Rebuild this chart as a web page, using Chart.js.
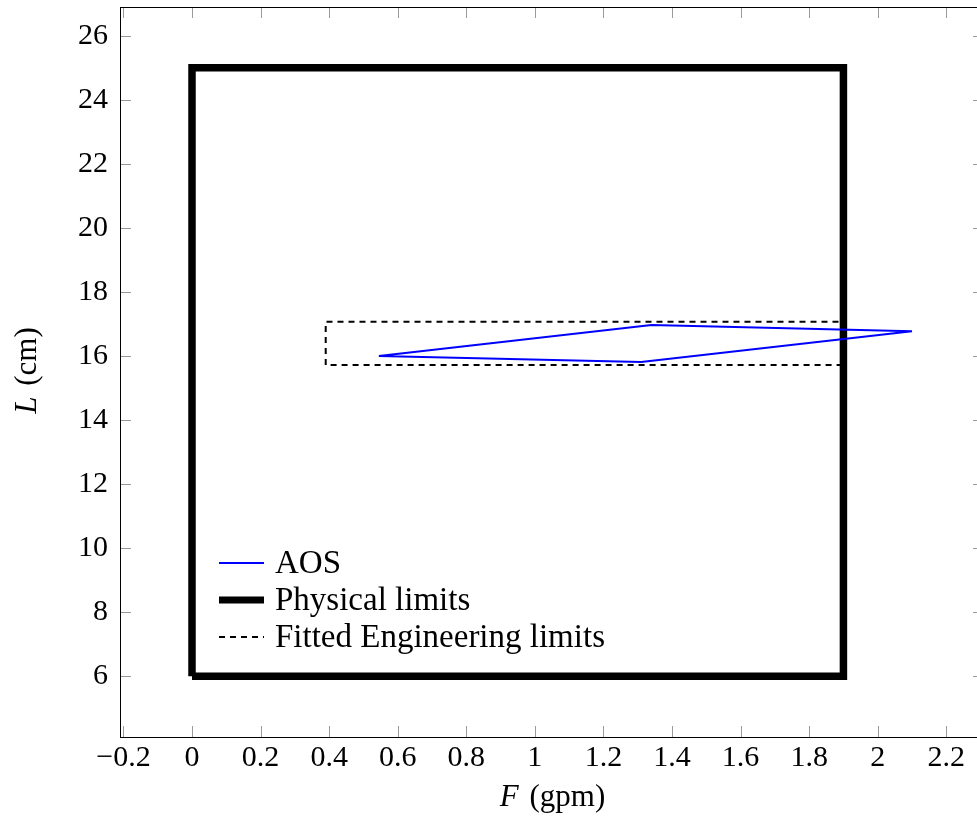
<!DOCTYPE html>
<html>
<head>
<meta charset="utf-8">
<script src="https://cdn.jsdelivr.net/npm/chart.js@4/dist/chart.umd.min.js"></script>
<style>
  html, body { margin: 0; padding: 0; background: #fff; overflow: hidden; }
  #wrap { width: 977px; height: 819px; overflow: hidden; }
  #c { display: block; }
</style>
</head>
<body>
<div id="wrap"><canvas id="c" width="984" height="819"></canvas></div>
<script>
// ---- data ----
const seriesNames = ['AOS', 'Physical limits', 'Fitted Engineering limits'];
const aosF  = [0.545, 1.34, 2.10, 1.31, 0.545];
const aosL  = [16.00, 16.97, 16.77, 15.81, 16.00];
const physF = [0, 0, 1.9, 1.9, 0];
const physL = [6, 25, 25, 6, 6];
const engF  = [0.39, 0.39, 1.9, 1.9, 0.39];
const engL  = [15.72, 17.07, 17.07, 15.72, 15.72];
const xTicks = [-0.2, 0, 0.2, 0.4, 0.6, 0.8, 1, 1.2, 1.4, 1.6, 1.8, 2, 2.2];
const yTicks = [6, 8, 10, 12, 14, 16, 18, 20, 22, 24, 26];
const xRange = [-0.21, 2.31];
const yRange = [4.1, 26.9];

const FONT = '"Liberation Serif", "Times New Roman", serif';
const pts = (xs, ys) => xs.map((x, i) => ({ x: x, y: ys[i] }));

function fmt(v) {
  const r = Math.round(v * 10) / 10;
  const s = String(r);
  return r < 0 ? '\u2212' + s.slice(1) : s;
}

const boxTicks = {
  id: 'boxTicks',
  afterDatasetsDraw(chart) {
    const { ctx, chartArea: a, scales: { x, y } } = chart;
    ctx.save();
    ctx.strokeStyle = '#9a9a9a';
    ctx.lineWidth = 1;
    const L = 11;
    ctx.beginPath();
    xTicks.forEach(v => {
      const px = Math.round(x.getPixelForValue(v)) + 0.5;
      ctx.moveTo(px, a.bottom); ctx.lineTo(px, a.bottom - L);
      ctx.moveTo(px, a.top); ctx.lineTo(px, a.top + L);
    });
    yTicks.forEach(v => {
      const py = Math.round(y.getPixelForValue(v)) + 0.5;
      ctx.moveTo(a.left, py); ctx.lineTo(a.left + L, py);
      ctx.moveTo(a.right, py); ctx.lineTo(a.right - L, py);
    });
    ctx.stroke();
    ctx.strokeStyle = '#000';
    ctx.lineWidth = 1;
    ctx.strokeRect(Math.round(a.left) + 0.5, Math.round(a.top) + 0.5,
                   Math.round(a.right - a.left), Math.round(a.bottom - a.top));
    ctx.restore();
  }
};

const titlesAndLegend = {
  id: 'titlesAndLegend',
  afterDraw(chart) {
    const { ctx, chartArea: a } = chart;
    ctx.save();
    ctx.fillStyle = '#000';
    ctx.textBaseline = 'middle';
    const f1 = 'italic 31px ' + FONT, f2 = '31px ' + FONT;
    // x title: italic F + " (gpm)"
    ctx.font = f1; const w1 = ctx.measureText('F').width;
    ctx.font = f2; const w2 = ctx.measureText(' (gpm)').width;
    const cx = 551 - (w1 + w2) / 2;
    ctx.textAlign = 'left';
    ctx.font = f1; ctx.fillText('F', cx, 798);
    ctx.font = f2; ctx.fillText(' (gpm)', cx + w1 + 3, 798);
    // y title
    ctx.save();
    ctx.translate(28, (a.top + a.bottom) / 2);
    ctx.rotate(-Math.PI / 2);
    ctx.font = f1; const v1 = ctx.measureText('L').width;
    ctx.font = f2; const v2 = ctx.measureText(' (cm)').width;
    const cy = -(v1 + v2) / 2;
    ctx.font = f1; ctx.fillText('L', cy, 0);
    ctx.font = f2; ctx.fillText(' (cm)', cy + v1 + 3, 0);
    ctx.restore();
    // legend
    const lf = '33px ' + FONT;
    chart.data.datasets.forEach((ds, i) => {
      const yy = 563 + 37 * i;
      ctx.save();
      ctx.strokeStyle = ds.borderColor;
      ctx.lineWidth = ds.legendWidth || ds.borderWidth;
      ctx.setLineDash(ds.borderDash || []);
      ctx.lineCap = 'butt';
      ctx.beginPath();
      ctx.moveTo(219, yy); ctx.lineTo(264, yy);
      ctx.stroke();
      ctx.restore();
      ctx.font = lf;
      ctx.textAlign = 'left';
      ctx.fillText(ds.label, 275, yy + 1);
    });
    ctx.restore();
  }
};

new Chart(document.getElementById('c'), {
  type: 'line',
  data: {
    datasets: [
      { label: seriesNames[0], data: pts(aosF, aosL), borderColor: '#0000ff', borderWidth: 2 },
      { label: seriesNames[1], data: pts(physF, physL), borderColor: '#000000', borderWidth: 7.5, legendWidth: 7, borderJoinStyle: 'miter', borderCapStyle: 'butt' },
      { label: seriesNames[2], data: pts(engF, engL), borderColor: '#000000', borderWidth: 2, borderDash: [6, 5] }
    ]
  },
  options: {
    responsive: false,
    animation: false,
    layout: { padding: { top: 7, right: 0, left: 0, bottom: 0 } },
    elements: { point: { radius: 0, hoverRadius: 0 }, line: { tension: 0, fill: false } },
    plugins: { legend: { display: false }, tooltip: { enabled: false } },
    scales: {
      x: {
        type: 'linear', position: 'bottom',
        min: xRange[0], max: xRange[1],
        grid: { display: false, drawTicks: false, tickLength: 0 },
        border: { display: false },
        afterBuildTicks: s => { s.ticks = xTicks.map(v => ({ value: v })); },
        afterFit: s => { s.height = 82; s.paddingLeft = 0; s.paddingRight = 0; },
        ticks: { color: '#000', font: { family: FONT, size: 30 }, padding: 3, maxRotation: 0, autoSkip: false, callback: v => fmt(v) }
      },
      y: {
        type: 'linear', position: 'left',
        min: yRange[0], max: yRange[1],
        grid: { display: false, drawTicks: false, tickLength: 0 },
        border: { display: false },
        afterBuildTicks: s => { s.ticks = yTicks.map(v => ({ value: v })); },
        afterFit: s => { s.width = 120; s.paddingTop = 0; s.paddingBottom = 0; },
        ticks: { color: '#000', font: { family: FONT, size: 30 }, padding: 12, autoSkip: false, callback: v => fmt(v) }
      }
    }
  },
  plugins: [boxTicks, titlesAndLegend]
});
</script>
</body>
</html>
